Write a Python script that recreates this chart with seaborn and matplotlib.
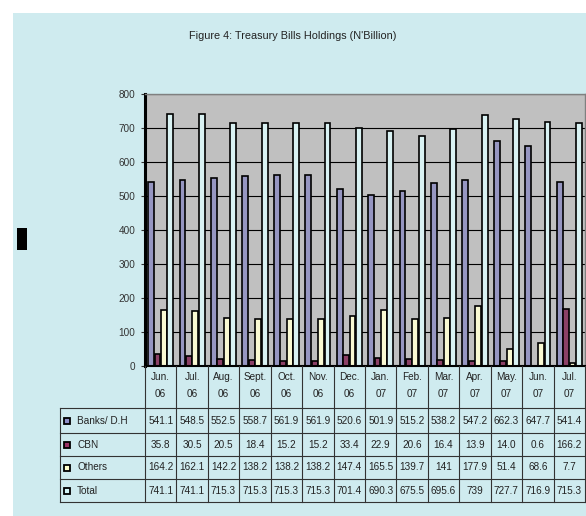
import pandas as pd
import matplotlib.pyplot as plt
import matplotlib.transforms as mtransforms
from matplotlib.patches import Rectangle
from matplotlib.lines import Line2D
import seaborn as sns

months = ["Jun.", "Jul.", "Aug.", "Sept.", "Oct.", "Nov.", "Dec.",
          "Jan.", "Feb.", "Mar.", "Apr.", "May.", "Jun.", "Jul."]
years = ["06"] * 7 + ["07"] * 7
banks = [541.1, 548.5, 552.5, 558.7, 561.9, 561.9, 520.6, 501.9, 515.2, 538.2, 547.2, 662.3, 647.7, 541.4]
cbn = [35.8, 30.5, 20.5, 18.4, 15.2, 15.2, 33.4, 22.9, 20.6, 16.4, 13.9, 14.0, 0.6, 166.2]
others = [164.2, 162.1, 142.2, 138.2, 138.2, 138.2, 147.4, 165.5, 139.7, 141, 177.9, 51.4, 68.6, 7.7]
total = [741.1, 741.1, 715.3, 715.3, 715.3, 715.3, 701.4, 690.3, 675.5, 695.6, 739, 727.7, 716.9, 715.3]
series_names = ["Banks/ D.H", "CBN", "Others", "Total"]
series_vals = [banks, cbn, others, total]
colors = ["#8F8FC8", "#993366", "#FFFFCC", "#D4F6F8"]

periods = [f"{m} {y}" for m, y in zip(months, years)]
rows = []
for name, vals in zip(series_names, series_vals):
    for p, v in zip(periods, vals):
        rows.append({"period": p, "series": name, "value": v})
df = pd.DataFrame(rows)

W, H = 586, 516
bg = "#CFEBEF"
plt.rcParams['font.family'] = ['Liberation Sans', 'DejaVu Sans']

fig = plt.figure(figsize=(W / 100, H / 100), dpi=100)
fig.patch.set_facecolor("white")

def fx(x):
    return x / W

def fy(y):
    return 1 - y / H

# cyan chart area
fig.add_artist(Rectangle((fx(13), 0), 1 - fx(13), fy(13), transform=fig.transFigure,
                         facecolor=bg, edgecolor="none", zorder=-10))
# small black mark at the left
fig.add_artist(Rectangle((fx(17), fy(250)), fx(10), fy(228) - fy(250),
                         transform=fig.transFigure, facecolor="black", edgecolor="none"))

ax = fig.add_axes([fx(145), fy(366), fx(585) - fx(145), fy(94) - fy(366)])
ax.set_facecolor("#C0C0C0")
sns.barplot(data=df, x="period", y="value", hue="series", palette=colors,
            width=0.82, gap=0.1, edgecolor="black", linewidth=1.2,
            legend=False, ax=ax)
ax.set_xlim(-0.5, len(periods) - 0.5)
ax.set_ylim(0, 800)
ax.set_yticks(range(0, 801, 100))
ax.yaxis.grid(True, color="black", linewidth=0.8)
ax.set_axisbelow(True)
ax.set_xticks([])
ax.set_xlabel("")
ax.set_ylabel("")
ax.tick_params(axis="y", labelsize=7.2, length=3, width=0.8, colors="#333333", pad=4)
for s in ["top", "right"]:
    ax.spines[s].set_color("#808080")
    ax.spines[s].set_linewidth(1)
ax.spines["left"].set_linewidth(2.2)
ax.spines["left"].set_color("black")
ax.spines["bottom"].set_linewidth(1.5)

fig.text(fx(293), fy(36), "Figure 4: Treasury Bills Holdings (N'Billion)",
         ha="center", va="center", fontsize=7.8, color="#222222")

# data table below the plot
tr = mtransforms.blended_transform_factory(ax.transData, fig.transFigure)
lc = "#333333"
fs = 7.2
n = len(periods)
for i in range(n + 1):
    xb = i - 0.5
    fig.add_artist(Line2D([xb, xb], [fy(366), fy(502)], transform=tr, color=lc, linewidth=0.8))
for i, (m, y) in enumerate(zip(months, years)):
    fig.text(i, fy(377), m, transform=tr, ha="center", va="center", fontsize=fs, color="#222222")
    fig.text(i, fy(394), y, transform=tr, ha="center", va="center", fontsize=fs, color="#222222")

row_lines = [408, 433, 456, 479, 502]
for yl in row_lines:
    fig.add_artist(Line2D([fx(60), fx(585)], [fy(yl), fy(yl)], transform=fig.transFigure,
                          color=lc, linewidth=0.8))
fig.add_artist(Line2D([fx(60), fx(60)], [fy(408), fy(502)], transform=fig.transFigure,
                      color=lc, linewidth=0.8))

for r, (name, vals, col) in enumerate(zip(series_names, series_vals, colors)):
    yc = (row_lines[r] + row_lines[r + 1]) / 2
    fig.add_artist(Rectangle((fx(64), fy(yc + 3)), fx(6), fy(yc - 3) - fy(yc + 3),
                             transform=fig.transFigure, facecolor=col,
                             edgecolor="black", linewidth=1.3))
    fig.text(fx(77), fy(yc), name, ha="left", va="center", fontsize=fs, color="#222222")
    for i, v in enumerate(vals):
        fig.text(i, fy(yc), str(v), transform=tr, ha="center", va="center",
                 fontsize=fs, color="#222222")

fig.savefig("out.png", dpi=100)
